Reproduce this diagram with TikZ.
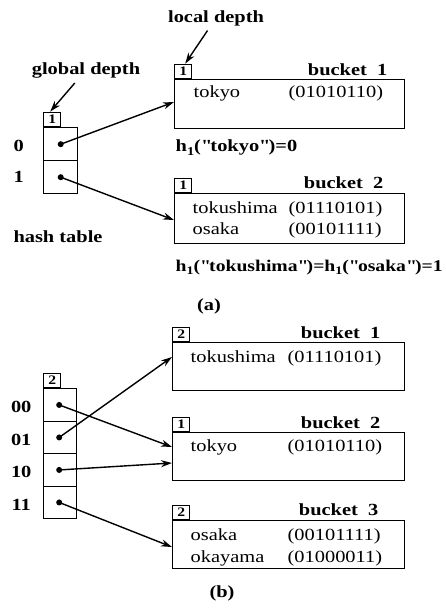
\documentclass[tikz,border=0pt]{standalone}
\usepackage{fontspec}
\setmainfont[FakeStretch=1.2]{Liberation Serif}
\usetikzlibrary{arrows.meta,calc}
\newcommand{\hsub}[1]{\raisebox{-3.5pt}{\fontsize{12}{12}\selectfont #1}}
\newcommand{\dq}{\textquotedbl}
\begin{document}
\begin{tikzpicture}[x=1pt,y=-1pt, line width=1.4pt,
  lbl/.style={font=\fontsize{17}{19}\selectfont\bfseries, inner sep=0},
  txt/.style={font=\fontsize{17}{19}\selectfont, inner sep=0, anchor=base west},
  bucketbox/.style={draw, minimum height=49pt, inner sep=0, anchor=north west},
  depthbox/.style={draw, minimum width=17pt, minimum height=14pt, inner sep=0, anchor=south west, font=\fontsize{13}{13}\selectfont\bfseries},
  cell/.style={draw, minimum width=33pt, inner sep=0, anchor=north west},
  ptr/.style={-{Stealth[length=11pt,width=7pt]}, line width=1.4pt},
  dot/.style={circle, fill, inner sep=0, minimum size=6pt}]
\useasboundingbox (0,0) rectangle (446,609);

% ================= (a) =================
\node[lbl] (ld) at (216,18) {local depth};
\node[lbl] (gd) at (86,70) {global depth};

% bucket 1
\node[bucketbox, minimum width=230pt] (a1) at (174,79) {};
\node[depthbox] (ad1) at (a1.north west) {1};
\node[lbl, anchor=base east] (a1lab) at (388,76) {bucket\ \ 1};
\node[txt] (a1n) at (193,98) {tokyo};
\node[txt] (a1c) at (288,98) {(01010110)};
\node[lbl, anchor=base west] (ah1) at (175,152) {h\hsub{1}(\dq tokyo\dq)=0};

% bucket 2
\node[bucketbox, minimum width=230pt, minimum height=50pt] (a2) at (174,193) {};
\node[depthbox] (ad2) at (a2.north west) {1};
\node[lbl, anchor=base east] (a2lab) at (384,189) {bucket\ \ 2};
\node[txt] (a2n1) at (192,214) {tokushima};
\node[txt] (a2c1) at (288,214) {(01110101)};
\node[txt] (a2n2) at (192,235) {osaka};
\node[txt] (a2c2) at (288,235) {(00101111)};
\node[lbl, anchor=base west] (ah2) at (175,271) {\resizebox{267pt}{!}{h\hsub{1}(\dq tokushima\dq)=h\hsub{1}(\dq osaka\dq)=1}};

% hash table (a)
\node[depthbox] (ag) at (43,127) {1};
\node[cell, minimum width=34pt, minimum height=33pt] (ac0) at (43,127) {};
\node[cell, minimum width=34pt, minimum height=33pt] (ac1) at (43,160) {};
\node[dot] (ap0) at (ac0.center) {};
\node[dot] (ap1) at (ac1.center) {};
\node[lbl] (al0) at ($(ac0.center)+(-42,2)$) {0};
\node[lbl] (al1) at ($(ac1.center)+(-42,0)$) {1};
\node[lbl] (aht) at (58,237) {hash table};
\node[lbl] (acap) at (209,306) {(a)};

\coordinate (ae0) at ($(a1.north west)+(0,23)$);
\coordinate (ae1) at ($(a2.north west)+(0,27)$);
\draw[ptr] (ap0.center) -- (ae0);
\draw[ptr] (ap1.center) -- (ae1);
\draw[ptr, shorten <=5pt] (ld) -- ($(ad1.north)+(2,0)$);
\draw[ptr, shorten <=6pt] (gd) -- ($(ag.north)+(-2,0)$);

% ================= (b) =================
\node[bucketbox, minimum width=232pt, minimum height=48pt] (b1) at (172,342) {};
\node[depthbox] (bd1) at (b1.north west) {2};
\node[lbl, anchor=base east] (b1lab) at (381,338) {bucket\ \ 1};
\node[txt] (b1n) at (190,362) {tokushima};
\node[txt] (b1c) at (287,362) {(01110101)};

\node[bucketbox, minimum width=232pt, minimum height=48pt] (b2) at (172,432) {};
\node[depthbox] (bd2) at (b2.north west) {1};
\node[lbl, anchor=base east] (b2lab) at (381,428) {bucket\ \ 2};
\node[txt] (b2n) at (190,451) {tokyo};
\node[txt] (b2c) at (287,451) {(01010110)};

\node[bucketbox, minimum width=232pt, minimum height=48pt] (b3) at (172,520) {};
\node[depthbox] (bd3) at (b3.north west) {2};
\node[lbl, anchor=base east] (b3lab) at (379,515) {bucket\ \ 3};
\node[txt] (b3n1) at (190,540) {osaka};
\node[txt] (b3c1) at (287,540) {(00101111)};
\node[txt] (b3n2) at (190,562) {okayama};
\node[txt] (b3c2) at (287,562) {(01000011)};

% hash table (b)
\node[depthbox] (bg) at (43,388) {2};
\node[cell, minimum height=32.5pt] (bc0) at (43,388) {};
\node[cell, minimum height=32.5pt] (bc1) at (43,420.5) {};
\node[cell, minimum height=32.5pt] (bc2) at (43,453) {};
\node[cell, minimum height=32.5pt] (bc3) at (43,485.5) {};
\foreach \i/\t in {0/00,1/01,2/10,3/11}{
  \node[dot] (bp\i) at ($(bc\i.center)+(-1,0)$) {};
  \node[lbl] (bl\i) at ($(bc\i.center)+(-39,2)$) {\t};
}
\node[lbl] (bcap) at (222,593) {(b)};

\coordinate (be0) at ($(b2.north west)+(0,15)$);
\coordinate (be1) at ($(b1.north west)+(0,15)$);
\coordinate (be2) at ($(b2.north west)+(0,31)$);
\coordinate (be3) at ($(b3.north west)+(0,27)$);
\draw[ptr] (bp0.center) -- (be0);
\draw[ptr] (bp1.center) -- (be1);
\draw[ptr] (bp2.center) -- (be2);
\draw[ptr] (bp3.center) -- (be3);
\end{tikzpicture}
\end{document}
